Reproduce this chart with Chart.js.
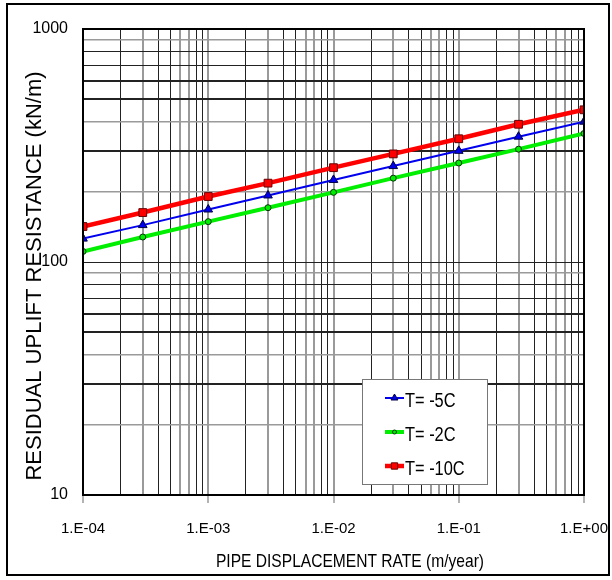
<!DOCTYPE html>
<html>
<head>
<meta charset="utf-8">
<script src="https://cdn.jsdelivr.net/npm/chart.js@4.4.1/dist/chart.umd.min.js"></script>
<style>
  html, body { margin: 0; padding: 0; background: #fff; }
  #wrap { width: 612px; height: 580px; }
</style>
</head>
<body>
<div id="wrap"><canvas id="chart" width="612" height="580"></canvas></div>
<script>
// values
const rates = [1e-4, 3e-4, 1e-3, 3e-3, 1e-2, 3e-2, 1e-1, 3e-1, 1];
const resT5 = [126, 144, 168, 193, 225, 258, 300, 345, 400];
const resT2 = [111, 128, 149, 171, 199, 229, 266, 305, 356];
const resT10 = [142, 163, 191, 218, 254, 291, 338, 390, 450];
const seriesNames = ["T= -5C", "T= -2C", "T= -10C"];

const xTitle = "PIPE DISPLACEMENT RATE (m/year)";
const yTitle = "RESIDUAL UPLIFT RESISTANCE (kN/m)";

const SANS = "'Liberation Sans', Arial, sans-serif";
const NARROW = 0.82; // the original uses a narrow face, squeeze text drawn by hand
const DARK = '#222';
const GRAY = '#9a9a9a';

function logTicks(lo, hi) {
	let out = [];
	for (let e = lo; e < hi; e++) {
		for (let m = 1; m < 10; m++) out.push(m * Math.pow(10, e));
	}
	out.push(Math.pow(10, hi));
	return out;
}
function mant(v) {
	let e = Math.floor(Math.log10(v) + 1e-9);
	return Math.round(v / Math.pow(10, e));
}
function isDecade(v) { return mant(v) === 1; }
function pad2(n) { return (n < 10 ? '0' : '') + n; }
function sciLabel(v) {
	let e = Math.round(Math.log10(v));
	return e < 0 ? '1.E-' + pad2(-e) : '1.E+' + pad2(e);
}

function pts(ys) { return rates.map((x, i) => ({ x: x, y: ys[i] })); }

const datasets = [
	{ label: seriesNames[0], data: pts(resT5), borderColor: '#0000ee', backgroundColor: '#0000ee',
	  borderWidth: 2, pointStyle: 'triangle', pointRadius: 5, pointBorderColor: '#000044', pointBorderWidth: 1 },
	{ label: seriesNames[1], data: pts(resT2), borderColor: '#00ee00', backgroundColor: '#00ee00',
	  borderWidth: 4, pointStyle: 'circle', pointRadius: 3, pointBorderColor: '#003300', pointBorderWidth: 1 },
	{ label: seriesNames[2], data: pts(resT10), borderColor: '#ff0000', backgroundColor: '#ff0000',
	  borderWidth: 4.5, pointStyle: 'rect', pointRadius: 5.5, pointBorderColor: '#660000', pointBorderWidth: 1 }
];

function narrowText(ctx, txt, x, y, align) {
	ctx.save();
	ctx.translate(x, y);
	ctx.scale(NARROW, 1);
	ctx.textAlign = align;
	ctx.fillText(txt, 0, 0);
	ctx.restore();
}

const decoPlugin = {
	id: 'deco',
	beforeDraw(chart) {
		let ctx = chart.ctx;
		ctx.save();
		ctx.fillStyle = '#fff';
		ctx.fillRect(0, 0, chart.width, chart.height);
		ctx.strokeStyle = '#000';
		ctx.lineWidth = 2;
		ctx.strokeRect(7, 4, 602, 571);
		ctx.restore();
	},
	afterDraw(chart) {
		let ctx = chart.ctx;
		let a = chart.chartArea;
		ctx.save();
		// plot frame
		ctx.strokeStyle = '#000';
		ctx.lineWidth = 2;
		ctx.strokeRect(a.left, a.top, a.right - a.left, a.bottom - a.top);

		// axis titles
		ctx.fillStyle = '#000';
		ctx.font = "19px " + SANS;
		ctx.textBaseline = 'alphabetic';
		narrowText(ctx, xTitle, 350, 567, 'center');

		ctx.translate(35, 276);
		ctx.rotate(-Math.PI / 2);
		ctx.font = "22px " + SANS;
		ctx.textAlign = 'center';
		ctx.textBaseline = 'middle';
		ctx.fillText(yTitle, 0, 0);
		ctx.restore();

		// legend box
		ctx.save();
		ctx.fillStyle = '#fff';
		ctx.fillRect(362, 379, 125, 105);
		ctx.strokeStyle = '#777';
		ctx.lineWidth = 1;
		ctx.strokeRect(362.5, 379.5, 125, 105);
		let bases = [407, 441, 475];
		chart.data.datasets.forEach((ds, i) => {
			let y = bases[i] - 9;
			ctx.strokeStyle = ds.borderColor;
			ctx.lineWidth = ds.borderWidth;
			ctx.beginPath();
			ctx.moveTo(385, y);
			ctx.lineTo(404, y);
			ctx.stroke();
			ctx.fillStyle = ds.backgroundColor;
			ctx.strokeStyle = ds.pointBorderColor;
			ctx.lineWidth = 1;
			Chart.helpers.drawPoint(ctx, {
				pointStyle: ds.pointStyle, radius: ds.pointRadius - 1, rotation: 0, borderWidth: 1
			}, 394.5, y);
			ctx.fillStyle = '#000';
			ctx.font = "20px " + SANS;
			ctx.textBaseline = 'alphabetic';
			narrowText(ctx, ds.label, 405, bases[i], 'left');
		});
		ctx.restore();
	}
};

new Chart(document.getElementById('chart'), {
	type: 'line',
	data: { datasets: datasets },
	plugins: [decoPlugin],
	options: {
		responsive: false,
		animation: false,
		layout: { padding: { left: 10, right: 28, top: 29, bottom: 0 } },
		plugins: { legend: { display: false }, tooltip: { enabled: false } },
		elements: { line: { tension: 0 } },
		scales: {
			x: {
				type: 'logarithmic',
				min: 1e-4, max: 1,
				afterBuildTicks: (s) => { s.ticks = logTicks(-4, 0).map(v => ({ value: v })); },
				afterFit: (s) => { s.height = 85; s.paddingLeft = 0; s.paddingRight = 0; },
				border: { color: '#000', width: 2 },
				grid: {
					color: (c) => { let m = mant(c.tick.value); return [1, 3, 6, 7].includes(m) ? GRAY : DARK; },
					lineWidth: (c) => { let m = mant(c.tick.value); return [1, 3, 6, 7].includes(m) ? 2 : 1; },
					tickColor: (c) => isDecade(c.tick.value) ? GRAY : 'rgba(0,0,0,0)',
					tickLength: 8,
					tickWidth: 1.5
				},
				ticks: {
					autoSkip: false, maxRotation: 0, padding: 17,
					color: '#000',
					font: { family: SANS, size: 15 },
					callback: (v) => isDecade(v) ? sciLabel(v) : ''
				}
			},
			y: {
				type: 'logarithmic',
				min: 10, max: 1000,
				afterBuildTicks: (s) => { s.ticks = logTicks(1, 3).map(v => ({ value: v })); },
				afterFit: (s) => { s.width = 73; },
				border: { color: '#000', width: 2 },
				grid: {
					drawTicks: false,
					color: (c) => { let m = mant(c.tick.value); return [2, 4, 9].includes(m) ? GRAY : DARK; },
					lineWidth: (c) => { let m = mant(c.tick.value); return [3, 5, 6].includes(m) ? 2 : ([2, 4, 9].includes(m) ? 1.5 : 1); }
				},
				ticks: {
					autoSkip: false, padding: 15,
					color: '#000',
					font: { family: SANS, size: 16 },
					callback: (v) => isDecade(v) ? String(Math.round(v)) : ''
				}
			}
		}
	}
});
</script>
</body>
</html>
